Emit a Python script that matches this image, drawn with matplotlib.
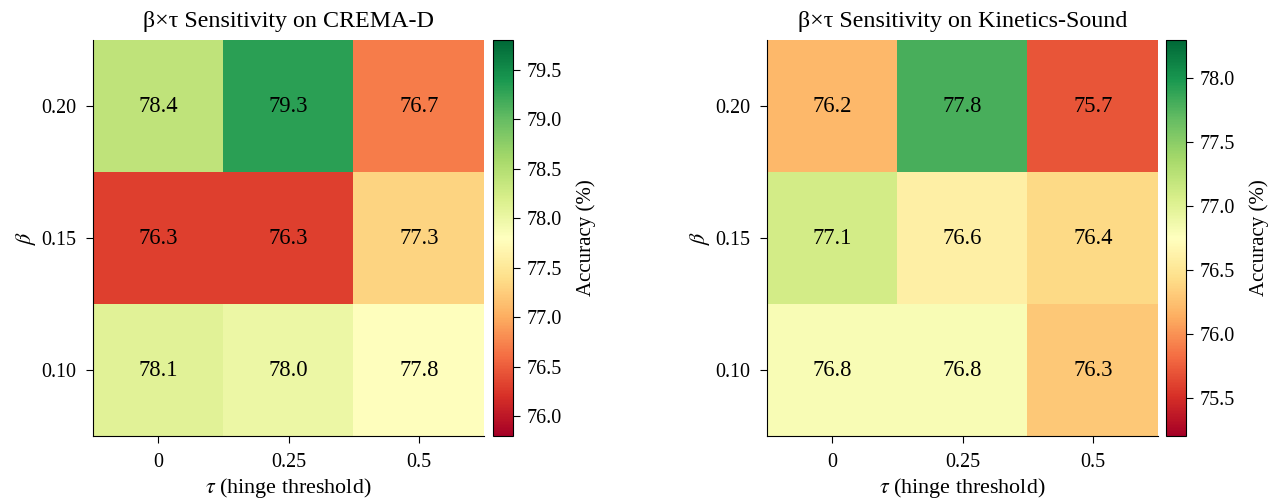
import numpy as np
import matplotlib
matplotlib.use("Agg")
import matplotlib.pyplot as plt

plt.rcParams['font.family'] = ['Liberation Serif', 'DejaVu Serif']
plt.rcParams['mathtext.fontset'] = 'stix'

# データ
beta_labels = ["0.20", "0.15", "0.10"]
tau_labels = ["0", "0.25", "0.5"]
crema_acc = [[78.4, 79.3, 76.7],
             [76.3, 76.3, 77.3],
             [78.1, 78.0, 77.8]]
ks_acc = [[76.2, 77.8, 75.7],
          [77.1, 76.6, 76.4],
          [76.8, 76.8, 76.3]]
titles = ["β×τ Sensitivity on CREMA-D", "β×τ Sensitivity on Kinetics-Sound"]

W, H = 1269, 498
fig = plt.figure(figsize=(W / 100, H / 100), dpi=100)

def px(x0, y0, x1, y1):
    return [x0 / W, 1 - y1 / H, (x1 - x0) / W, (y1 - y0) / H]

boxes = [(93, 40, 484, 436), (767, 40, 1158, 436)]
cboxes = [(493, 40, 513, 436), (1166, 40, 1186, 436)]

for vals, title, box, cbox in zip([crema_acc, ks_acc], titles, boxes, cboxes):
    data = np.array(vals)
    vmin, vmax = data.min() - 0.5, data.max() + 0.5
    ax = fig.add_axes(px(*box))
    cax = fig.add_axes(px(*cbox))
    im = ax.imshow(data, cmap='RdYlGn', vmin=vmin, vmax=vmax, aspect='auto')
    for i in range(data.shape[0]):
        for j in range(data.shape[1]):
            ax.text(j, i, f"{data[i, j]:.1f}", ha='center', va='center', fontsize=16.3)
    ax.set_xticks(range(len(tau_labels)))
    ax.set_xticklabels(tau_labels, fontsize=14.4)
    ax.set_yticks(range(len(beta_labels)))
    ax.set_yticklabels(beta_labels, fontsize=14.4)
    ax.tick_params(length=5, pad=7)
    for s in ['top', 'right']:
        ax.spines[s].set_visible(False)
    ax.set_xlabel(r"$\tau$ (hinge threshold)", fontsize=15.8, labelpad=3)
    ax.set_ylabel(r"$\beta$", fontsize=15.8, labelpad=2)
    ax.set_title(title, fontsize=17.3, pad=9)
    cb = fig.colorbar(im, cax=cax)
    cb.ax.tick_params(labelsize=14.4, length=5, pad=5)
    cb.set_label("Accuracy (%)", fontsize=15, labelpad=10)

fig.savefig("out.png", dpi=100)
